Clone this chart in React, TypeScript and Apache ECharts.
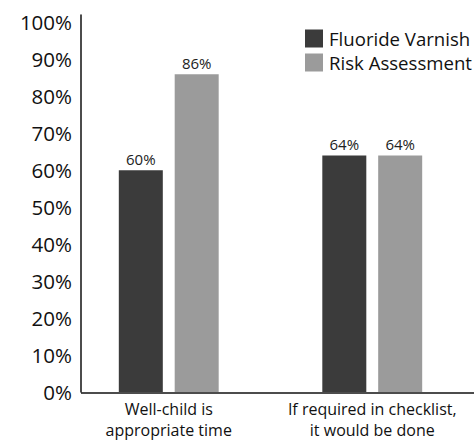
import React, { useEffect, useRef } from "react";
import * as echarts from "echarts";

const categories = ["Well-child is\nappropriate time", "If required in checklist,\nit would be done"];
const fluorideVarnish = [60, 64];
const riskAssessment = [86, 64];
const seriesNames = ["Fluoride Varnish", "Risk Assessment"];

const FONT = "'Open Sans', sans-serif";

export default function App() {
  const ref = useRef<HTMLDivElement>(null);
  useEffect(() => {
    if (!ref.current) return;
    const chart = echarts.init(ref.current, null, { renderer: "svg" });
    const labelStyle = {
      show: true,
      position: "top",
      distance: 4,
      fontSize: 15,
      fontFamily: FONT,
      color: "#222",
      formatter: (p: any) => p.value + "%",
    };
    chart.setOption({
      animation: false,
      backgroundColor: "#fff",
      grid: { left: 67, right: -1, top: 15, bottom: 47, containLabel: false },
      legend: {
        orient: "vertical",
        left: 305,
        top: 29,
        itemWidth: 18,
        itemHeight: 18,
        itemGap: 5,
        padding: 0,
        icon: "rect",
        selectedMode: false,
        textStyle: { fontSize: 18.6, fontFamily: FONT, color: "#111", padding: [0, 0, 0, 1] },
        data: seriesNames,
      },
      xAxis: {
        type: "category",
        data: categories,
        axisLine: { show: false },
        axisTick: { show: false },
        axisLabel: {
          interval: 0,
          fontSize: 16,
          lineHeight: 21,
          margin: 6,
          fontFamily: FONT,
          color: "#111",
        },
      },
      yAxis: {
        type: "value",
        min: 0,
        max: 102,
        interval: 10,
        offset: -14,
        axisLine: { show: true, lineStyle: { color: "#111", width: 1.5 } },
        axisTick: { show: false },
        splitLine: { show: false },
        axisLabel: {
          margin: 9,
          fontSize: 20.5,
          fontFamily: FONT,
          color: "#111",
          formatter: (v: number) => (v > 100 ? "" : v + "%"),
        },
      },
      graphic: [
        {
          type: "line",
          shape: { x1: 81, y1: 393, x2: 474, y2: 393 },
          style: { stroke: "#111", lineWidth: 1.5 },
        },
      ],
      series: [
        {
          name: seriesNames[0],
          type: "bar",
          data: fluorideVarnish,
          barWidth: 44,
          barGap: "27%",
          itemStyle: { color: "#3b3b3b" },
          label: labelStyle,
        },
        {
          name: seriesNames[1],
          type: "bar",
          data: riskAssessment,
          barWidth: 44,
          barGap: "27%",
          itemStyle: { color: "#9b9b9b" },
          label: labelStyle,
        },
      ],
    });
    return () => chart.dispose();
  }, []);
  return (
    <div
      ref={ref}
      style={{ position: "fixed", left: 0, top: 0, width: 474, height: 440 }}
    />
  );
}
